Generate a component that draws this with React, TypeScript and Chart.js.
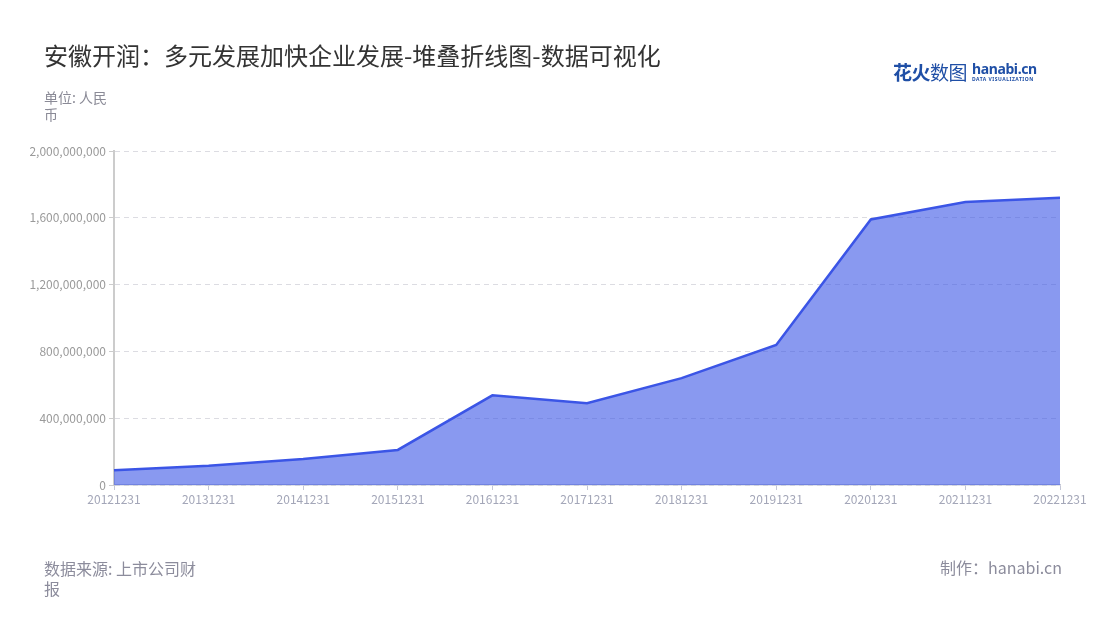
import React, { useEffect, useRef } from 'react';
import { Chart, registerables } from 'chart.js';

Chart.register(...registerables);

const categories = [
  '20121231', '20131231', '20141231', '20151231', '20161231', '20171231',
  '20181231', '20191231', '20201231', '20211231', '20221231',
];
const revenue = [
  88000000, 115000000, 155000000, 210000000, 537000000, 490000000,
  640000000, 838000000, 1590000000, 1695000000, 1720000000,
];
const yTickValues = [0, 400000000, 800000000, 1200000000, 1600000000, 2000000000];

const FONT = '"Noto Sans CJK SC", "Noto Sans", sans-serif';
const LINE_COLOR = 'rgb(59, 85, 230)';
const FILL_COLOR = 'rgba(59, 85, 230, 0.6)';

const AreaChart: React.FC = () => {
  const canvasRef = useRef<HTMLCanvasElement>(null);
  const chartInstance = useRef<Chart | null>(null);

  useEffect(() => {
    if (!canvasRef.current) return;
    const ctx = canvasRef.current.getContext('2d');
    if (!ctx) return;

    chartInstance.current = new Chart(ctx, {
      type: 'line',
      data: {
        labels: categories,
        datasets: [
          {
            label: '营业收入',
            data: revenue,
            borderColor: LINE_COLOR,
            backgroundColor: FILL_COLOR,
            borderWidth: 2.5,
            fill: 'origin',
            tension: 0,
            pointRadius: 0,
            pointHoverRadius: 0,
          },
        ],
      },
      options: {
        animation: false,
        responsive: true,
        maintainAspectRatio: false,
        layout: { padding: { left: 0, top: 151, right: 40, bottom: 105 } },
        plugins: {
          legend: { display: false },
          tooltip: { enabled: false },
        },
        scales: {
          x: {
            offset: false,
            afterFit: (scale) => { scale.height = 30; },
            grid: {
              drawOnChartArea: false,
              drawTicks: true,
              tickLength: 5,
              tickColor: '#c4c7d6',
            },
            border: { color: '#c4c7d6', width: 1.5 },
            ticks: {
              color: '#a3a6b8',
              font: { family: FONT, size: 12 },
              padding: 2,
              maxRotation: 0,
              autoSkip: false,
            },
          },
          y: {
            min: 0,
            max: 2000000000,
            afterFit: (scale) => { scale.width = 114; },
            afterBuildTicks: (scale) => {
              scale.ticks = yTickValues.map(v => ({ value: v }));
            },
            grid: {
              color: '#dcdce2',
              lineWidth: 1,
              drawTicks: true,
              tickLength: 5,
              tickColor: '#cccccc',
            },
            // border.dash dashes the grid lines in Chart.js 4
            border: { color: '#cccccc', width: 2, dash: [5, 4] },
            ticks: {
              color: '#9a9a9a',
              font: { family: FONT, size: 12 },
              padding: 3,
              callback: (v) => Number(v).toLocaleString('en-US'),
            },
          },
        },
      },
    });

    return () => {
      if (chartInstance.current) {
        chartInstance.current.destroy();
        chartInstance.current = null;
      }
    };
  }, []);

  return <canvas ref={canvasRef} />;
};

const App: React.FC = () => {
  return (
    <div style={{ position: 'fixed', left: 0, top: 0, width: 1100, height: 620, background: '#fff', fontFamily: FONT, overflow: 'hidden' }}>
      <div style={{ position: 'absolute', left: 0, top: 0, width: 1100, height: 620 }}>
        <AreaChart />
      </div>
      <div style={{ position: 'absolute', left: 44, top: 40, fontSize: 24, lineHeight: '30px', color: '#333', whiteSpace: 'nowrap' }}>
        安徽开润：多元发展加快企业发展-堆叠折线图-数据可视化
      </div>
      <div style={{ position: 'absolute', left: 44, top: 89, width: 68, fontSize: 14, lineHeight: '17px', color: '#8a8a96' }}>
        单位: 人民币
      </div>
      <div style={{ position: 'absolute', left: 893, top: 60, display: 'flex', alignItems: 'center', color: '#1f4fa6' }}>
        <span style={{ fontSize: 19, lineHeight: '24px', letterSpacing: -0.5 }}>
          <b>花火</b>数图
        </span>
        <span style={{ marginLeft: 5, display: 'flex', flexDirection: 'column', lineHeight: 1 }}>
          <span style={{ fontSize: 14, fontWeight: 700, fontFamily: '"Noto Sans", sans-serif', letterSpacing: -0.4 }}>hanabi.cn</span>
          <span style={{ fontSize: 5, fontWeight: 700, letterSpacing: 0.5, marginTop: 1, fontFamily: '"Noto Sans", sans-serif' }}>DATA VISUALIZATION</span>
        </span>
      </div>
      <div style={{ position: 'absolute', left: 44, top: 558, width: 156, fontSize: 16, lineHeight: '20px', color: '#8c8c9c' }}>
        数据来源: 上市公司财报
      </div>
      <div style={{ position: 'absolute', right: 38, top: 557, fontSize: 16, lineHeight: '20px', color: '#8c8c9c', whiteSpace: 'nowrap' }}>
        制作：hanabi.cn
      </div>
    </div>
  );
};

export default App;
